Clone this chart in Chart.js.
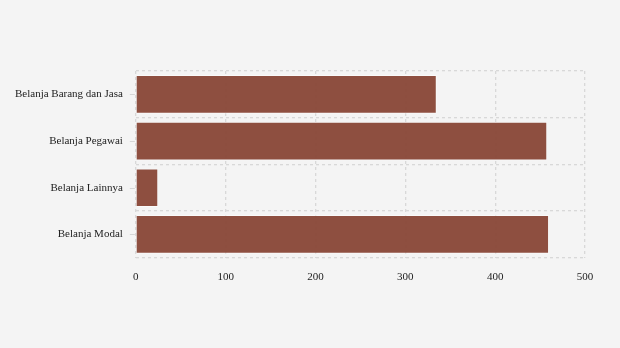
<!DOCTYPE html>
<html>
<head>
<meta charset="utf-8">
<script src="https://cdn.jsdelivr.net/npm/chart.js@4/dist/chart.umd.min.js"></script>
<style>
  html, body { margin: 0; padding: 0; background: #f4f4f4; }
  #wrap { width: 620px; height: 348px; }
</style>
</head>
<body>
<div id="wrap"><canvas id="myChart" width="620" height="348"></canvas></div>
<script>
// 데이터
const categories = ['Belanja Barang dan Jasa', 'Belanja Pegawai', 'Belanja Lainnya', 'Belanja Modal'];
const values = [335, 458, 25, 460];
const xTicks = [0, 100, 200, 300, 400, 500];

const serif = "'Liberation Serif', 'DejaVu Serif', serif";

// y축 라벨 옆 짧은 눈금
const labelTicks = {
    id: 'labelTicks',
    afterDraw: function(chart) {
        const y = chart.scales.y;
        const c = chart.ctx;
        c.save();
        c.strokeStyle = '#d6d6d6';
        c.lineWidth = 1;
        categories.forEach((cat, i) => {
            const py = Math.round(y.getPixelForValue(i)) + 0.5;
            c.beginPath();
            c.moveTo(y.right - 6, py);
            c.lineTo(y.right - 1, py);
            c.stroke();
        });
        c.restore();
    }
};

const ctx = document.getElementById('myChart').getContext('2d');
const myChart = new Chart(ctx, {
    type: 'bar',
    data: {
        labels: categories,
        datasets: [{
            label: 'Belanja',
            data: values,
            backgroundColor: 'rgba(137, 72, 56, 0.96)',
            borderColor: 'rgba(255,255,255,0.5)',
            borderWidth: 1,
            barPercentage: 0.92,
            categoryPercentage: 0.9
        }]
    },
    options: {
        indexAxis: 'y',
        responsive: false,
        animation: false,
        layout: {
            padding: { top: 71, right: 35, bottom: 51, left: 2 }
        },
        plugins: {
            legend: { display: false },
            tooltip: { enabled: false }
        },
        scales: {
            x: {
                min: 0,
                max: 500,
                afterBuildTicks: function(axis) {
                    axis.ticks = xTicks.map(v => ({ value: v }));
                },
                grid: {
                    color: '#d8d8d8',
                    lineWidth: 1.3,
                    drawTicks: false
                },
                border: { display: false, dash: [3, 3] },
                ticks: {
                    color: '#222',
                    padding: 13,
                    font: { family: serif, size: 11 }
                }
            },
            y: {
                grid: {
                    color: '#d8d8d8',
                    lineWidth: 1.3,
                    drawTicks: false
                },
                border: { display: false, dash: [3, 3] },
                ticks: {
                    color: '#222',
                    padding: 13,
                    font: { family: serif, size: 11 }
                }
            }
        }
    },
    plugins: [labelTicks]
});
</script>
</body>
</html>
